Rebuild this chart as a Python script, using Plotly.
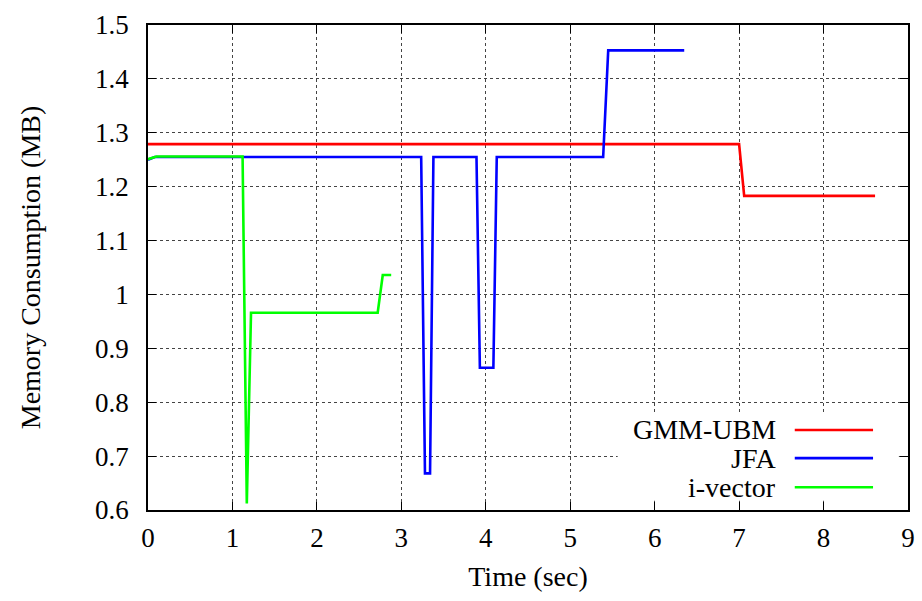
import plotly.graph_objects as go

series_names = ["GMM-UBM", "JFA", "i-vector"]
series_colors = ["#ff0000", "#0000ff", "#00ff00"]

gmm_x = [0, 7.0, 7.06, 8.61]
gmm_y = [1.279, 1.279, 1.183, 1.183]

jfa_x = [0, 0.08, 3.235, 3.28, 3.34, 3.38, 3.89, 3.93, 4.09, 4.13, 5.39, 5.45, 6.35]
jfa_y = [1.25, 1.255, 1.255, 0.668, 0.668, 1.255, 1.255, 0.864, 0.864, 1.255, 1.255, 1.453, 1.453]

ivec_x = [0, 0.1, 1.12, 1.17, 1.22, 2.72, 2.78, 2.88]
ivec_y = [1.251, 1.256, 1.256, 0.612, 0.966, 0.966, 1.036, 1.036]

x_ticks = [0, 1, 2, 3, 4, 5, 6, 7, 8, 9]
y_ticks = [0.6, 0.7, 0.8, 0.9, 1.0, 1.1, 1.2, 1.3, 1.4, 1.5]
y_tick_labels = ["0.6", "0.7", "0.8", "0.9", "1", "1.1", "1.2", "1.3", "1.4", "1.5"]

FONT = "Liberation Serif, 'Times New Roman', serif"
TICK_SIZE = 27
TEXT_SIZE = 28

fig = go.Figure()
for name, color, xs, ys in zip(series_names, series_colors,
                               [gmm_x, jfa_x, ivec_x], [gmm_y, jfa_y, ivec_y]):
    fig.add_trace(go.Scatter(x=xs, y=ys, mode="lines", name=name,
                             line=dict(color=color, width=2.6), showlegend=False))

# legend box: blanks out the grid behind the key, as gnuplot does (kept clear of the tick marks)
fig.add_shape(type="rect", xref="paper", yref="paper", x0=0.618, x1=0.988, y0=0.019, y1=0.2,
              fillcolor="white", line=dict(width=0), layer="above")

# legend drawn manually: text right-aligned, line sample on the right
leg_y = [0.165, 0.107, 0.047]
for name, color, ly in zip(series_names, series_colors, leg_y):
    fig.add_annotation(x=0.828, y=ly, xref="paper", yref="paper", text=name,
                       showarrow=False, xanchor="right", yanchor="middle",
                       height=27, valign="middle", borderpad=0,
                       font=dict(family=FONT, size=TEXT_SIZE, color="black"))
    fig.add_shape(type="line", xref="paper", yref="paper",
                  x0=0.851, x1=0.954, y0=ly, y1=ly, layer="above",
                  line=dict(color=color, width=2.6))

axis_common = dict(
    showline=True, linecolor="black", linewidth=1.5, mirror="ticks",
    ticks="inside", ticklen=8, tickcolor="black", tickwidth=1,
    showgrid=True, gridcolor="#444", griddash="dot", gridwidth=1,
    zeroline=False, tickfont=dict(family=FONT, size=TICK_SIZE, color="black"),
)

fig.update_xaxes(range=[0, 9], tickvals=x_ticks,
                 title=dict(text="Time (sec)", font=dict(family=FONT, size=TEXT_SIZE, color="black"), standoff=14),
                 ticklabelstandoff=3, **axis_common)
fig.update_yaxes(range=[0.6, 1.5], tickvals=y_ticks, ticktext=y_tick_labels,
                 title=dict(text="Memory Consumption (MB)", font=dict(family=FONT, size=TEXT_SIZE, color="black"), standoff=46),
                 ticklabelstandoff=12, **axis_common)

fig.update_layout(width=922, height=601, plot_bgcolor="white", paper_bgcolor="white",
                  margin=dict(l=148, r=14, t=25, b=91, autoexpand=False))

# remove the default 8px page margin so the figure fills the window exactly
fig.write_html("out.html", config={"displayModeBar": False},
               post_script="document.body.style.margin='0';document.body.style.overflow='hidden';")
